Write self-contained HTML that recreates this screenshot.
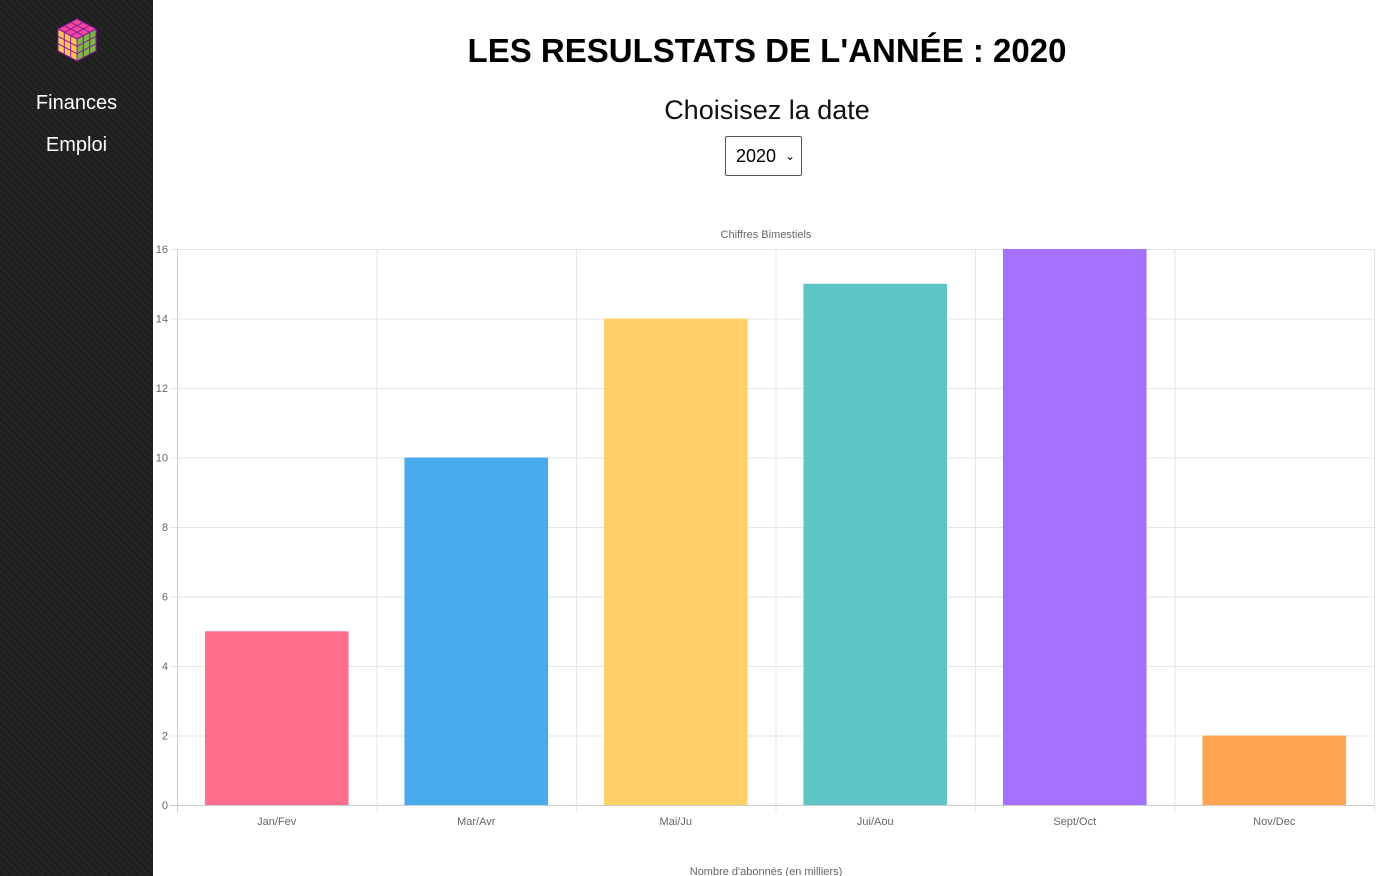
<!DOCTYPE html>
<html><head><meta charset="utf-8"><style>
body{margin:0;width:1381px;height:876px;overflow:hidden;font-family:"Liberation Sans",sans-serif;background:#fff;position:relative}
#side{position:absolute;left:0;top:0;width:153px;height:876px;background:#222;background-image:repeating-linear-gradient(45deg,#262626 0 2px,#1f1f1f 2px 5px)}
.nav{position:absolute;width:153px;text-align:center;color:#fff;font-size:20px}
h1{position:absolute;top:32px;left:153px;width:1228px;margin:0;text-align:center;font-size:33px;font-weight:bold;font-family:"Liberation Sans",sans-serif;color:#000}
#sub{position:absolute;top:95px;left:153px;width:1228px;text-align:center;font-size:27px;color:#111}
#sel{position:absolute;left:725px;top:136px;width:77px;height:40px;border:1px solid #555;border-radius:2px;font-size:18px;box-sizing:border-box;padding:9px 10px;background:#fff}
</style></head><body>
<div id="side">
<svg style="position:absolute;left:55px;top:17px" width="44" height="46" viewBox="0 0 44 46">
<polygon points="22,2 41,12 22,22 3,12" fill="#f0489b" stroke="#8a1a9a" stroke-width="1"/>
<polygon points="3,12 22,22 22,44 3,34" fill="#ffc552" stroke="#8a1a9a" stroke-width="1"/>
<polygon points="22,22 41,12 41,34 22,44" fill="#7ab648" stroke="#8a1a9a" stroke-width="1"/>
<g stroke="#8a1a9a" stroke-width="1" fill="none">
<path d="M9.3,8.7 L28.3,18.7 M15.7,5.3 L34.7,15.3 M28.3,5.3 L9.3,15.3 M34.7,8.7 L15.7,18.7"/>
<path d="M9.3,15.3 V37.3 M15.7,18.7 V40.7 M3,19.3 L22,29.3 M3,26.7 L22,36.7"/>
<path d="M28.3,18.7 V40.7 M34.7,15.3 V37.3 M22,29.3 L41,19.3 M22,36.7 L41,26.7"/>
</g></svg>
<div class="nav" style="top:92px">Finances</div>
<div class="nav" style="top:134px">Emploi</div>
</div>
<h1>LES RESULSTATS DE L'ANNÉE : 2020</h1>
<div id="sub">Choisisez la date</div>
<div id="sel">2020 <span style="font-size:12px;position:absolute;right:6px;top:12px">&#8964;</span></div>
<svg id="chart" style="position:absolute;left:0;top:0" width="1381" height="876"></svg>
<script>
const categories=["Jan/Fev","Mar/Avr","Mai/Ju","Jui/Aou","Sept/Oct","Nov/Dec"];
const values=[5,10,14,15,16,2];
const fills=["#ff6f8d","#4aabec","#ffd166","#5cc6c6","#a371fe","#ffa552"];
const yTicks=[0,2,4,6,8,10,12,14,16];
const svg=document.getElementById('chart');const NS="http://www.w3.org/2000/svg";
const X0=177,X1=1374,Y0=805,Y1=249,ymax=16;
const cw=(X1-X0)/categories.length;
const y=v=>Y0-(v/ymax)*(Y0-Y1);
const x=i=>X0+i*cw;
function mk(t,a){const e=document.createElementNS(NS,t);for(const k in a)e.setAttribute(k,a[k]);svg.appendChild(e);return e;}
yTicks.forEach(t=>{
 const l=mk('line',{x1:170,x2:X1,y1:y(t)+.5,y2:y(t)+.5,stroke:t===0?'#ccc':'#e6e6e6'});
 
 const tx=mk('text',{x:168,y:y(t)+4,'text-anchor':'end','font-size':11,fill:'#666'});tx.textContent=t;
 
});
for(let i=0;i<=categories.length;i++){
 const l=mk('line',{x1:x(i)+.5,x2:x(i)+.5,y1:Y1,y2:812,stroke:i===0?'#ccc':'#e6e6e6'});
 
}
categories.forEach((c,i)=>{
 const bw=cw*0.72,bx=x(i)+(cw-bw)/2;
 const r=mk('rect',{x:bx,y:y(values[i]),width:bw,height:Y0-y(values[i]),fill:fills[i]});
 
 const t=mk('text',{x:x(i)+cw/2,y:825,'text-anchor':'middle','font-size':11,fill:'#666'});t.textContent=c;
 
});
const ti=mk('text',{x:766,y:238,'text-anchor':'middle','font-size':11,fill:'#666'});ti.textContent="Chiffres Bimestiels";

const xt=mk('text',{x:766,y:875,'text-anchor':'middle','font-size':11,fill:'#666'});xt.textContent="Nombre d'abonnés (en milliers)";

</script>
</body></html>
